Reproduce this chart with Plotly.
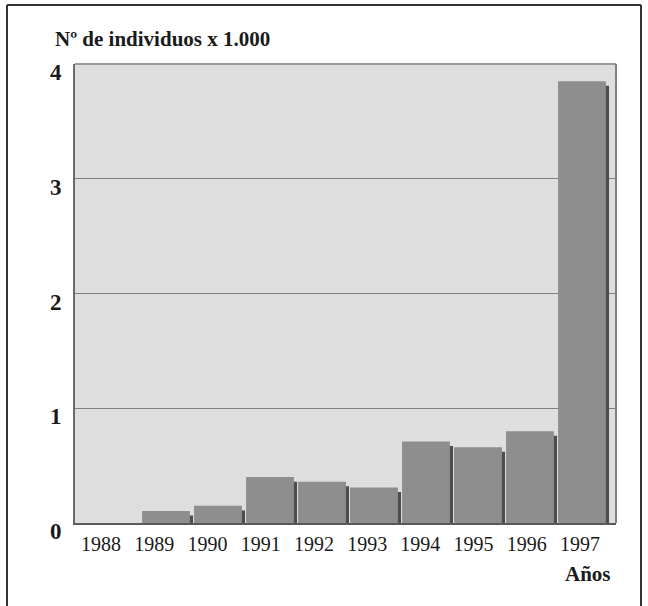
import plotly.graph_objects as go

years = [1988, 1989, 1990, 1991, 1992, 1993, 1994, 1995, 1996, 1997]
individuos_miles = [0.0, 0.105, 0.15, 0.40, 0.36, 0.31, 0.71, 0.66, 0.80, 3.85]
y_ticks = [0, 1, 2, 3, 4]
y_tick_labels = ["0", "1", "2", "3", "4"]
title_text = "Nº de individuos x 1.000"
x_title_text = "Años"

SERIF = "Liberation Serif, Times New Roman, serif"

fig = go.Figure()

# shadow of each bar
fig.add_trace(go.Bar(
    x=years, y=individuos_miles, base=-0.04,
    width=0.92, offset=-0.40,
    marker=dict(color="#4d4d4d", line=dict(width=0)),
    cliponaxis=False, hoverinfo="skip", showlegend=False,
))
# main bars
fig.add_trace(go.Bar(
    x=years, y=individuos_miles,
    width=0.92, offset=-0.46,
    marker=dict(color="#8e8e8e", line=dict(width=0)),
    showlegend=False,
))
# invisible carrier so that the year-label axis is drawn
fig.add_trace(go.Scatter(
    x=years, y=[0] * len(years), xaxis="x2", yaxis="y",
    mode="markers", marker=dict(opacity=0, size=1),
    hoverinfo="skip", showlegend=False,
))

PX_L, PX_R, PX_T, PX_B = 75, 616, 64, 523
W, H = PX_R - PX_L, PX_B - PX_T


def px_x(p):
    return (p - PX_L) / W


def px_y(p):
    return (PX_B - p) / H


fig.update_layout(
    width=648, height=606,
    margin=dict(l=PX_L, r=648 - PX_R, t=PX_T, b=606 - PX_B),
    paper_bgcolor="white",
    plot_bgcolor="#dedede",
    barmode="overlay",
    font=dict(family=SERIF, color="#1a1a1a"),
    xaxis=dict(
        range=[1987.25, 1997.654],
        showticklabels=False, showgrid=False, zeroline=False,
        showline=True, linecolor="#5a5a5a", linewidth=2, mirror=False,
        ticks="", layer="below traces",
    ),
    xaxis2=dict(
        overlaying="x", anchor="y", side="bottom",
        range=[1987.511, 1997.676],
        tickmode="array", tickvals=years, ticktext=[str(v) for v in years],
        showgrid=False, zeroline=False, showline=False, ticks="",
        tickfont=dict(family=SERIF, size=20, color="#1a1a1a"),
        ticklabelstandoff=7,
    ),
    yaxis=dict(
        range=[0, 4],
        tickmode="array", tickvals=y_ticks, ticktext=y_tick_labels,
        showgrid=True, gridcolor="#7f7f7f", gridwidth=1,
        zeroline=False,
        showline=True, linecolor="#6a6a6a", linewidth=2, mirror=False,
        ticks="",
        tickfont=dict(family=SERIF, size=23, color="#1a1a1a", weight="bold"),
        ticklabelshift=8,
        ticklabelstandoff=7,
    ),
    annotations=[
        dict(text=title_text, xref="paper", yref="paper",
             x=px_x(53), y=1.0, xanchor="left", yanchor="bottom", yshift=11,
             showarrow=False,
             font=dict(family=SERIF, size=21, color="#1a1a1a", weight="bold")),
        dict(text=x_title_text, xref="paper", yref="paper",
             x=px_x(613), y=0.0, xanchor="right", yanchor="top", yshift=-37,
             showarrow=False,
             font=dict(family=SERIF, size=21, color="#1a1a1a", weight="bold")),
    ],
    shapes=[
        # top and right edges of plot area
        dict(type="line", xref="paper", yref="paper", x0=0, x1=1, y0=1, y1=1,
             line=dict(color="#9a9a9a", width=2)),
        dict(type="line", xref="paper", yref="paper", x0=1, x1=1, y0=0, y1=1,
             line=dict(color="#808080", width=2)),
        # outer frame (top, left, right)
        dict(type="line", xref="paper", yref="paper",
             x0=px_x(7), x1=px_x(641), y0=px_y(5), y1=px_y(5),
             line=dict(color="#333333", width=2)),
        dict(type="line", xref="paper", yref="paper",
             x0=px_x(7), x1=px_x(7), y0=px_y(5), y1=px_y(606),
             line=dict(color="#333333", width=2)),
        dict(type="line", xref="paper", yref="paper",
             x0=px_x(641), x1=px_x(641), y0=px_y(5), y1=px_y(606),
             line=dict(color="#333333", width=2)),
    ],
)

fig.write_html("out.html", config={"displayModeBar": False},
               post_script="document.body.style.margin='0px';")
